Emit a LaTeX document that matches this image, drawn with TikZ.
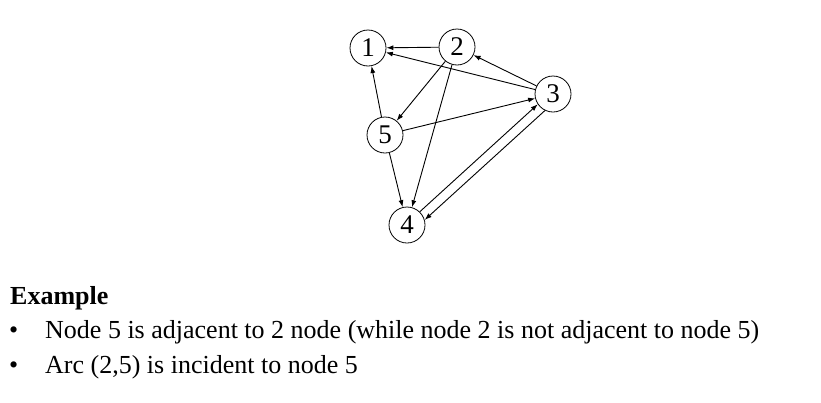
\documentclass[tikz,border=0pt]{standalone}
\usepackage{fontspec}
\setmainfont{Liberation Serif}
\usetikzlibrary{arrows.meta}

\begin{document}
\begin{tikzpicture}[x=1pt, y=-1pt, >={Latex[length=7pt,width=5pt]}]
  \tikzstyle{vertex} = [draw, circle,
                        minimum size = 36pt,
                        inner sep = 0pt,
                        line width = 0.8pt,
                        font = \fontsize{27}{27}\selectfont]
\tikzset{EdgeStyle/.style={->, line width = 0.9pt}}
\tikzstyle{TextStyle} = [anchor = base west, inner sep = 0pt,
                         font = \fontsize{26}{31}\selectfont]
\useasboundingbox (0,0) rectangle (821,402);

\node[vertex] (A1) at (368,48) {1};
\node[vertex] (A2) at (457,47) {2};
\node[vertex] (A3) at (553,94) {3};
\node[vertex] (A5) at (385,135) {5};
\node[vertex] (A4) at (407,225) {4};

\draw[EdgeStyle] (A2) -- (A1);
\draw[EdgeStyle] (A3) -- (A2);
\draw[EdgeStyle] (A3) -- (A1);
\draw[EdgeStyle] (A5) -- (A1);
\draw[EdgeStyle] (A2) -- (A5);
\draw[EdgeStyle] (A2) -- (A4);
\draw[EdgeStyle] (A5) -- (A3);
\draw[EdgeStyle] (A5) -- (A4);
% parallel arcs between 3 and 4
\draw[EdgeStyle] (A4.46) -- (A3.214);
\draw[EdgeStyle] (A3.244) -- (A4.16);

\node[TextStyle, font = \fontsize{26}{31}\selectfont\bfseries] (title) at (10,304) {Example};
\node[TextStyle] (b1) at (9,338) {•};
\node[TextStyle] (l1) at (45,338) {Node 5 is adjacent to 2 node (while node 2 is not adjacent to node 5)};
\node[TextStyle] (b2) at (9,373) {•};
\node[TextStyle] (l2) at (45,373) {Arc (2,5) is incident to node 5};

\end{tikzpicture}
\end{document}
